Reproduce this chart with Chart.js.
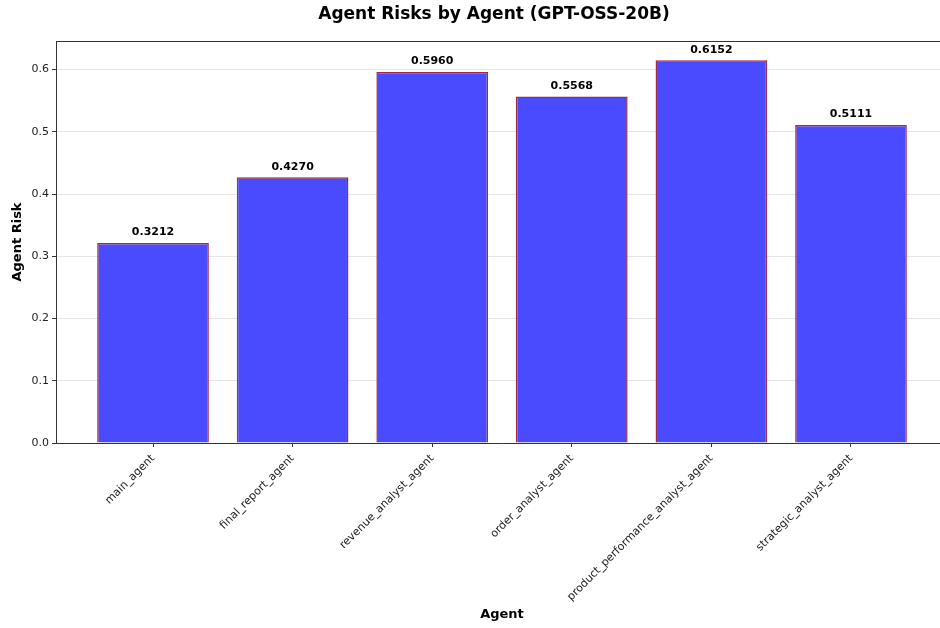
<!DOCTYPE html>
<html>
<head>
<meta charset="utf-8">
<script src="https://cdn.jsdelivr.net/npm/chart.js@4.4.1/dist/chart.umd.min.js"></script>
<style>
  html, body { margin: 0; padding: 0; background: #fff; overflow: hidden; }
  #wrap { width: 950px; height: 628px; }
</style>
</head>
<body>
<div id="wrap"><canvas id="riskChart"></canvas></div>
<script>
const agents = ['main_agent', 'final_report_agent', 'revenue_analyst_agent', 'order_analyst_agent',
    'product_performance_analyst_agent', 'strategic_analyst_agent'];
const riskValues = [0.3212, 0.4270, 0.5960, 0.5568, 0.6152, 0.5111];
const yTicks = [0.0, 0.1, 0.2, 0.3, 0.4, 0.5, 0.6];
const chartTitle = 'Agent Risks by Agent (GPT-OSS-20B)';

const FONT = "'DejaVu Sans', sans-serif";

// value labels above each bar
const barLabels = {
    id: 'barLabels',
    afterDatasetsDraw(chart) {
        const ctx = chart.ctx;
        const meta = chart.getDatasetMeta(0);
        ctx.save();
        ctx.font = "bold 11px " + FONT;
        ctx.fillStyle = '#000';
        ctx.textAlign = 'center';
        ctx.textBaseline = 'bottom';
        meta.data.forEach((bar, i) => {
            ctx.fillText(riskValues[i].toFixed(4), bar.x, bar.y - 5);
        });
        ctx.restore();
    }
};

// top spine + title (title centred like the original, not on the wider canvas)
const frame = {
    id: 'frame',
    afterDraw(chart) {
        const a = chart.chartArea;
        const ctx = chart.ctx;
        ctx.save();
        ctx.strokeStyle = '#333';
        ctx.lineWidth = 1;
        ctx.beginPath();
        ctx.moveTo(a.left, a.top + 0.5);
        ctx.lineTo(a.right, a.top + 0.5);
        ctx.stroke();
        ctx.font = "bold 17px " + FONT;
        ctx.fillStyle = '#000';
        ctx.textAlign = 'center';
        ctx.textBaseline = 'middle';
        ctx.fillText(chartTitle, 494, 15);
        ctx.restore();
    }
};

new Chart(document.getElementById('riskChart'), {
    type: 'bar',
    data: {
        datasets: [{
            label: 'Agent Risk',
            data: riskValues.map((v, i) => ({ x: i, y: v })),
            backgroundColor: '#4a4aff',
            borderColor: '#a02848',
            borderWidth: 1.5,
            barPercentage: 1.0,
            categoryPercentage: 0.8
        }]
    },
    options: {
        responsive: true,
        maintainAspectRatio: false,
        animation: false,
        layout: { padding: { left: 0, right: 2, top: 41, bottom: 0 } },
        plugins: {
            legend: { display: false },
            tooltip: { enabled: false },
            title: { display: false }
        },
        scales: {
            x: {
                type: 'linear',
                offset: false,
                min: -0.695,
                max: 5.695,
                afterBuildTicks(scale) {
                    scale.ticks = agents.map((a, i) => ({ value: i }));
                },
                afterFit(scale) { scale.height = 185; },
                ticks: {
                    autoSkip: false,
                    minRotation: 45,
                    maxRotation: 45,
                    padding: 5,
                    color: '#222',
                    font: { family: FONT, size: 11 },
                    callback: (v) => agents[v]
                },
                grid: {
                    offset: false,
                    drawOnChartArea: false,
                    drawTicks: true,
                    tickLength: 4,
                    tickColor: '#333'
                },
                border: { color: '#333', width: 1 },
                title: {
                    display: true,
                    text: 'Agent',
                    color: '#000',
                    font: { family: FONT, size: 13, weight: 'bold' },
                    padding: { top: 0, bottom: 6 }
                }
            },
            y: {
                min: 0,
                max: 0.646,
                afterBuildTicks(scale) {
                    scale.ticks = yTicks.map(v => ({ value: v }));
                },
                afterFit(scale) { scale.width = 56; },
                ticks: {
                    color: '#222',
                    padding: 3,
                    font: { family: FONT, size: 11 },
                    callback: (v) => Number(v).toFixed(1)
                },
                grid: {
                    color: 'rgba(0,0,0,0.1)',
                    tickColor: '#333',
                    tickLength: 4
                },
                border: { color: '#333', width: 1 },
                title: {
                    display: true,
                    text: 'Agent Risk',
                    color: '#000',
                    font: { family: FONT, size: 13, weight: 'bold' },
                    padding: { top: 10, bottom: 0 }
                }
            }
        }
    },
    plugins: [barLabels, frame]
});
</script>
</body>
</html>
